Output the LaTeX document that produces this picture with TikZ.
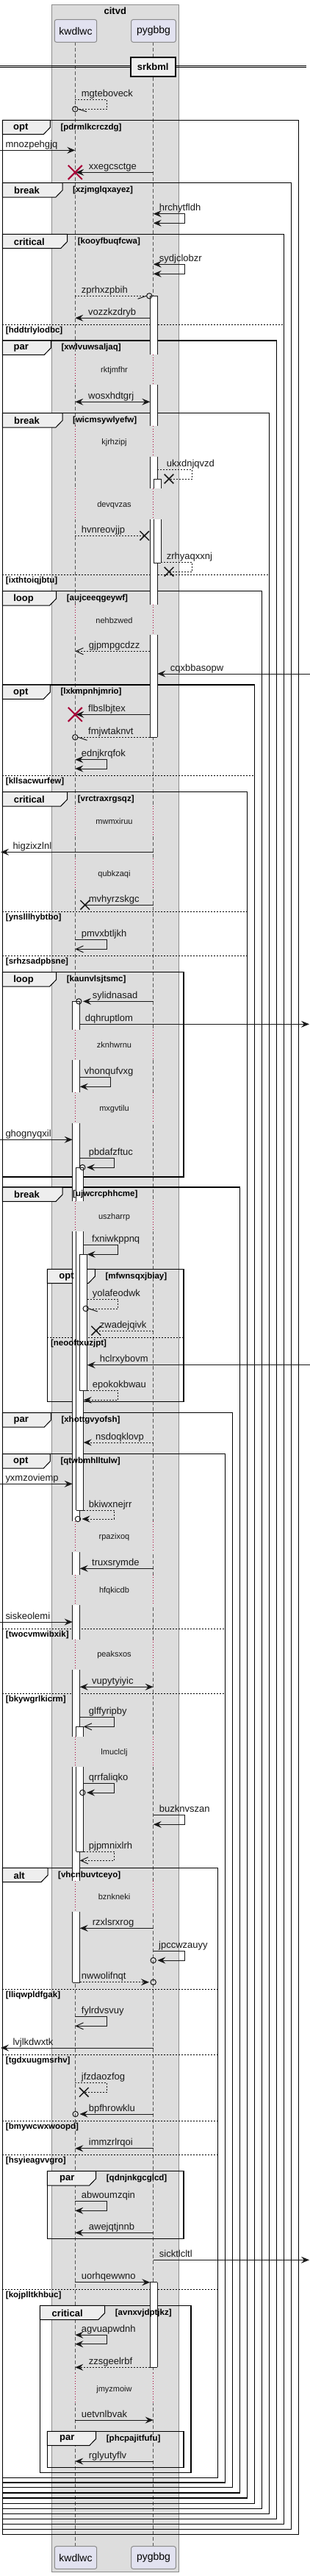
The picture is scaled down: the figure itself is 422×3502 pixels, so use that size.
\documentclass[tikz,border=0pt]{standalone}
\usepackage{fontspec}
\setmainfont{Liberation Sans}
\usetikzlibrary{arrows.meta}
\definecolor{boxgray}{HTML}{DDDDDD}
\definecolor{boxedge}{HTML}{8C8C8C}
\definecolor{partfill}{HTML}{E2E2F0}
\definecolor{partedge}{HTML}{8C8C8C}
\definecolor{tabfill}{HTML}{EEEEEE}
\definecolor{delayred}{HTML}{A80036}
\definecolor{lifegray}{HTML}{555555}
\definecolor{ink}{HTML}{181818}
\tikzset{
  fa/.tip={Stealth[length=11pt,width=9pt,inset=4pt]},
  oa/.tip={Straight Barb[length=10pt,width=9pt]},
  msgline/.style={draw=ink,line width=1pt},
  dashmsg/.style={msgline,dash pattern=on 2pt off 2pt},
  lbl/.style={anchor=base west,inner sep=0pt,text=ink,font=\fontsize{13}{13}\selectfont},
  grd/.style={anchor=west,inner sep=0pt,text=black,font=\bfseries\fontsize{11.5}{11.5}\selectfont},
  framekind/.style={inner sep=0pt,text=black,font=\bfseries\fontsize{13}{13}\selectfont},
  dly/.style={inner sep=0pt,text=ink,font=\fontsize{11}{11}\selectfont},
  frm/.style={draw=black,line width=1.5pt},
  tabsh/.style={draw=black,line width=1pt,fill=tabfill},
  elseln/.style={draw=black,line width=0.8pt,dash pattern=on 2pt off 2pt},
  actedge/.style={draw=ink,line width=1pt},
  lifel/.style={draw=lifegray,line width=0.8pt,dash pattern=on 5pt off 3pt},
  dotl/.style={draw=delayred,line width=1pt,dash pattern=on 1pt off 2.5pt},
  circ/.style={circle,draw=ink,line width=1pt,minimum size=7.4pt,inner sep=0pt},
  partbox/.style={draw=partedge,fill=partfill,line width=1pt,rounded corners=2.5pt,inner sep=0pt,minimum height=30.6pt,font=\fontsize{14}{14}\selectfont},
  lostx/.style={draw=ink,line width=1.5pt},
  killx/.style={draw=delayred,line width=2pt},
}
% straight message: name, x1, x2, y, style, label, labelx
\newcommand\SqMsg[7]{%
  \coordinate (#1-s) at (#2,#4);
  \coordinate (#1-e) at (#3,#4);
  \draw[#5] (#1-s) -- (#1-e);
  \node[lbl] (#1-t) at (#7,#4-4) {#6};
}
% self message: name, xs, xr, ytop, ybot, xend, style, label, labelx
\newcommand\SqSelf[9]{%
  \coordinate (#1-a) at (#2,#4);
  \coordinate (#1-b) at (#3,#4);
  \coordinate (#1-c) at (#3,#5);
  \coordinate (#1-d) at (#6,#5);
  \draw[#7] (#1-a) -- (#1-b) -- (#1-c) -- (#1-d);
  \node[lbl] (#1-t) at (#9,#4-4) {#8};
}
% circle
\newcommand\SqCirc[3]{\node[circ] (#1) at (#2,#3) {};}
% X mark: name x y size style
\newcommand\SqXmark[5]{%
  \coordinate (#1) at (#2,#3);
  \draw[#5] (#2-#4,#3-#4) -- (#2+#4,#3+#4) (#2-#4,#3+#4) -- (#2+#4,#3-#4);
}
% activation: name x y1 y2
\newcommand\SqActBase[4]{%
  \coordinate (#1-tl) at (#2,#3);
  \coordinate (#1-br) at (#2+10,#4);
  \fill[white] (#1-tl) rectangle (#1-br);
  \draw[actedge] (#1-tl) -- (#1-tl |- #1-br) (#1-br |- #1-tl) -- (#1-br);
}
\newcommand\SqActTop[1]{\draw[actedge] (#1-tl) -- (#1-br |- #1-tl);}
\newcommand\SqActBot[1]{\draw[actedge] (#1-tl |- #1-br) -- (#1-br);}
% delay: name y1 y2 text ty
\newcommand\SqDelay[5]{%
  \fill[boxgray] (100.6,#2) rectangle (104,#3);
  \fill[boxgray] (207,#2) rectangle (210.4,#3);
  \coordinate (#1-k1) at (102.3,#2); \coordinate (#1-k2) at (102.3,#3);
  \coordinate (#1-p1) at (208.7,#2); \coordinate (#1-p2) at (208.7,#3);
  \draw[dotl] (#1-k1) -- (#1-k2);
  \draw[dotl] (#1-p1) -- (#1-p2);
  \node[dly] (#1) at (155.5,#5) {#4};
}
% frames: name, top, bottom, left, right, kind, tabright, guard, kindcx
\newcommand\SqFrameShape[9]{%
  \coordinate (#1-nw) at (#4,#2);
  \coordinate (#1-se) at (#5,#3);
  \draw[frm] (#1-nw) rectangle (#1-se);
  \filldraw[tabsh] (#4,#2) -- (#7,#2) -- (#7,#2+10) -- (#7-9,#2+19.3) -- (#4,#2+19.3) -- cycle;
}
\newcommand\SqFrameText[9]{%
  \node[framekind] (#1-k) at (#9,#2+10.2) {#6};
  \node[grd] (#1-g) at (#7+14,#2+10) {#8};
}
\newcommand\FrameData{%
  \SqFrame{f1}{163.3}{3445.7}{3.3}{406.7}{opt}{68.3}{[pdrmlkcrczdg]}{28.3}
  \SqFrame{f2}{248.7}{3438.7}{3.3}{396.7}{break}{85}{[xzjmglqxayez]}{36.5}
  \SqFrame{f3}{318.3}{3431.7}{3.3}{386.7}{critical}{91.7}{[kooyfbuqfcwa]}{39.8}
  \SqFrame{f4}{463}{3424.7}{3.3}{376.7}{par}{69.3}{[xwlvuwsaljaq]}{28.7}
  \SqFrame{f5}{561.7}{3417.7}{3.3}{366.7}{break}{85}{[wicmsywlyefw]}{36.5}
  \SqFrame{f6}{803.7}{3410.3}{3.3}{356.7}{loop}{76.7}{[aujceeqgeywf]}{32}
  \SqFrame{f7}{931}{3403.3}{3.3}{346.7}{opt}{68.3}{[lxkmpnhjmrio]}{28.3}
  \SqFrame{f8}{1076.7}{3396}{3.3}{336.7}{critical}{91.7}{[vrctraxrgsqz]}{39.8}
  \SqFrame{f9}{1321.7}{1600}{3.3}{250}{loop}{76.7}{[kaunvlsjtsmc]}{32}
  \SqFrame{f10}{1614}{3389}{3.3}{326.7}{break}{85}{[ujwcrcphhcme]}{36.5}
  \SqFrame{f11}{1725.3}{1905.7}{64.3}{250}{opt}{129.3}{[mfwnsqxjbiay]}{90.5}
  \SqFrame{f12}{1920.7}{3381.7}{3.3}{316.7}{par}{69.3}{[xhottgvyofsh]}{28.7}
  \SqFrame{f13}{1976.7}{3375}{3.3}{306.7}{opt}{68.3}{[qtwbmhlltulw]}{28.3}
  \SqFrame{f14}{2539.3}{3368.3}{3.3}{296.7}{alt}{65}{[vhcnbuvtceyo]}{26.2}
  \SqFrame{f15}{2951.7}{3043.3}{64.3}{250}{par}{130.7}{[qdnjnkgcglcd]}{91.3}
  \SqFrame{f16}{3134.3}{3361.7}{54.3}{260}{critical}{142.7}{[avnxvjdptjkz]}{91.7}
  \SqFrame{f17}{3305.3}{3354.3}{64.3}{250}{par}{130.7}{[phcpajitfufu]}{91.3}
}
% else: name, y, left, right, guard
\newcommand\SqElseShape[5]{%
  \coordinate (#1-l) at (#3,#2);
  \coordinate (#1-r) at (#4,#2);
  \draw[elseln] (#1-l) -- (#1-r);
}
\newcommand\SqElseText[5]{\node[grd] (#1-g) at (#3+4.5,#2+8.3) {#5};}
\newcommand\ElseData{%
  \SqElse{e1}{441.7}{3.3}{386.7}{[hddtrlylodbc]}
  \SqElse{e2}{781.3}{3.3}{366.7}{[ixthtoiqjbtu]}
  \SqElse{e3}{1054}{3.3}{346.7}{[kllsacwurfew]}
  \SqElse{e4}{1239.3}{3.3}{336.7}{[ynslllhybtbo]}
  \SqElse{e5}{1299.3}{3.3}{336.7}{[srhzsadpbsne]}
  \SqElse{e6}{1818.3}{64.3}{250}{[neooftxuzjpt]}
  \SqElse{e7}{2214}{3.3}{306.7}{[twocvmwibxik]}
  \SqElse{e8}{2302.3}{3.3}{306.7}{[bkywgrlkicrm]}
  \SqElse{e9}{2704.3}{3.3}{296.7}{[lliqwpldfgak]}
  \SqElse{e10}{2793}{3.3}{296.7}{[tgdxuugmsrhv]}
  \SqElse{e11}{2883.3}{3.3}{296.7}{[bmywcwxwoopd]}
  \SqElse{e12}{2929.3}{3.3}{296.7}{[hsyieagvvgro]}
  \SqElse{e13}{3112}{3.3}{296.7}{[kojplltkhbuc]}
}
\begin{document}
\begin{tikzpicture}[x=1pt,y=-1pt]
\useasboundingbox (0,0) rectangle (422,3502);
\fill[white] (0,0) rectangle (422,3502);
% group box
\coordinate (grp-nw) at (70.3,6);
\coordinate (grp-se) at (243.3,3496.7);
\filldraw[draw=boxedge,fill=boxgray,line width=1pt] (grp-nw) rectangle (grp-se);
\node[framekind] (grptitle) at (156.8,15) {citvd};
% lifelines
\coordinate (kw-top) at (102.3,57.3); \coordinate (kw-bot) at (102.3,3461.7);
\coordinate (py-top) at (208.7,57.3); \coordinate (py-bot) at (208.7,3461.7);
\draw[lifel] (kw-top) -- (kw-bot);
\draw[lifel] (py-top) -- (py-bot);
% delays
\SqDelay{d1}{482.3}{523.3}{rktjmfhr}{503.3}
\SqDelay{d2}{579.3}{620.7}{kjrhzipj}{601.7}
\SqDelay{d3}{664.3}{706}{devqvzas}{686.7}
\SqDelay{d4}{821.7}{863.3}{nehbzwed}{843.3}
\SqDelay{d5}{1095.7}{1137.3}{mwmxiruu}{1116.7}
\SqDelay{d6}{1167}{1208.3}{qubkzaqi}{1188.3}
\SqDelay{d7}{1400}{1441}{zknhwrnu}{1421}
\SqDelay{d8}{1485}{1526.7}{mxgvtilu}{1507.3}
\SqDelay{d9}{1632.7}{1674.3}{uszharrp}{1655}
\SqDelay{d10}{2068.3}{2110}{rpazixoq}{2090}
\SqDelay{d11}{2140.7}{2182.3}{hfqkicdb}{2162.3}
\SqDelay{d12}{2228.7}{2270}{peaksxos}{2250}
\SqDelay{d13}{2360.7}{2401.7}{lmuclclj}{2382.3}
\SqDelay{d14}{2557.3}{2599}{bznkneki}{2579}
\SqDelay{d15}{3226}{3267.3}{jmyzmoiw}{3248.3}
% participants
\node[partbox,minimum width=57.4pt] (kwT) at (103,42) {kwdlwc};
\node[partbox,minimum width=60.6pt] (pyT) at (209,42) {pygbbg};
\node[partbox,minimum width=57.4pt] (kwB) at (103,3477) {kwdlwc};
\node[partbox,minimum width=60.6pt] (pyB) at (209,3477) {pygbbg};
% divider
\coordinate (dv1l) at (0,89); \coordinate (dv1r) at (417,89);
\coordinate (dv2l) at (0,91.7); \coordinate (dv2r) at (417,91.7);
\draw[draw=black,line width=1pt] (dv1l) -- (dv1r) (dv2l) -- (dv2r);
\node[draw=black,fill=tabfill,line width=2pt,inner sep=0pt,minimum width=61pt,minimum height=26.3pt,font=\bfseries\fontsize{13}{13}\selectfont] (div) at (208.2,90.85) {srkbml};
% frames
\let\SqFrame\SqFrameShape \FrameData
\let\SqElse\SqElseShape \ElseData
% activations pygbbg
\SqActBase{a1}{204.3}{402.3}{482.3}\SqActTop{a1}
\SqActBase{a2}{204.3}{523.3}{579.3}
\SqActBase{a3}{204.3}{620.7}{664.3}
\SqActBase{a4}{204.3}{706}{821.7}
\SqActBase{a5}{204.3}{863.3}{1002.3}\SqActBot{a5}
\SqActBase{b1}{209.3}{651.3}{664.3}\SqActTop{b1}
\SqActBase{b2}{209.3}{706}{765}\SqActBot{b2}
\SqActBase{a6}{204.3}{3102.7}{3218.3}\SqActTop{a6}\SqActBot{a6}
% activations kwdlwc
\SqActBase{c1}{98.7}{1361.3}{1400}\SqActTop{c1}
\SqActBase{c2}{98.7}{1441}{1485}
\SqActBase{c3}{98.7}{1526.7}{1632.7}
\SqActBase{c4}{98.7}{1674.3}{2068.3}
\SqActBase{c5}{98.7}{2110}{2140.7}
\SqActBase{c6}{98.7}{2182.3}{2228.7}
\SqActBase{c7}{98.7}{2270}{2360.7}
\SqActBase{c8}{98.7}{2401.7}{2557.3}
\SqActBase{c9}{98.7}{2599}{2695}\SqActBot{c9}
\SqActBase{g1}{103.7}{1587}{1632.7}\SqActTop{g1}
\SqActBase{g2}{103.7}{1674.3}{2053.3}\SqActBot{g2}
\SqActBase{h1}{108.7}{1705.3}{1890.7}\SqActTop{h1}\SqActBot{h1}
\SqActBase{j1}{103.7}{2347.3}{2360.7}\SqActTop{j1}
\SqActBase{j2}{103.7}{2401.7}{2517}\SqActBot{j2}
% messages
\SqSelf{m1}{102.3}{145.7}{135.7}{148.3}{106}{dashmsg}{mgteboveck}{110.7}
\SqCirc{m1o}{102.3}{148.3}
\draw[msgline] (m1o.east) -- ++(11.5,3.5);
\SqMsg{m2}{0}{102.3}{204.3}{msgline,-fa}{mnozpehgjq}{7.3}
\SqMsg{m3}{208.7}{103.3}{234.3}{msgline,-fa}{xxegcsctge}{120.7}
\SqXmark{m3x}{102.3}{234.3}{9.5}{killx}
\SqSelf{m4}{208.7}{251.7}{290.7}{303.3}{208.7}{msgline,fa-fa}{hrchytfldh}{216.7}
\SqSelf{m5}{208.7}{251.7}{359.3}{372.3}{208.7}{msgline,fa-fa}{sydjclobzr}{216.7}
\SqMsg{m6}{102.3}{199.6}{402.3}{dashmsg}{zprhxzpbih}{110.7}
\SqCirc{m6o}{203.3}{402.3}
\draw[msgline] (m6o.west) -- ++(-11.5,4);
\SqMsg{m7}{204.3}{102.3}{432.3}{msgline,-fa}{vozzkzdryb}{120}
\SqMsg{m8}{102.3}{204.3}{546.3}{msgline,fa-fa}{wosxhdtgrj}{120}
\SqSelf{m9}{214.3}{261.7}{638.3}{651}{230}{dashmsg}{ukxdnjqvzd}{226.7}
\SqXmark{m9x}{230}{651}{6.3}{lostx}
\SqMsg{m10}{102.3}{196.7}{728.3}{dashmsg}{hvnreovjjp}{110.7}
\SqXmark{m10x}{196.7}{728.3}{6.3}{lostx}
\SqSelf{m11}{219.3}{261.7}{764.3}{777.3}{230}{dashmsg}{zrhyaqxxnj}{226.7}
\SqXmark{m11x}{230}{777.3}{6.3}{lostx}
\SqMsg{m12}{204.3}{102.3}{885.3}{dashmsg,-oa}{gjpmpgcdzz}{120.7}
\SqMsg{m13}{422}{214.3}{916}{msgline,-fa}{cqxbbasopw}{231.7}
\SqMsg{m14}{204.3}{103.3}{971.3}{msgline,-fa}{flbslbjtex}{120}
\SqXmark{m14x}{102.3}{971.3}{9.5}{killx}
\SqMsg{m15}{204.3}{106}{1002.3}{dashmsg}{fmjwtaknvt}{120}
\SqCirc{m15o}{102.3}{1002.3}
\draw[msgline] (m15o.east) -- ++(12,4);
\SqSelf{m16}{102.3}{145.7}{1032.7}{1045}{102.3}{msgline,fa-fa}{ednjkrqfok}{110.7}
\SqMsg{m17}{208.7}{1}{1158.3}{msgline,-fa}{higzixzlnl}{17.3}
\SqMsg{m18}{208.7}{115.7}{1230.3}{msgline}{mvhyrzskgc}{120.7}
\SqXmark{m18x}{115.7}{1230.3}{6.3}{lostx}
\SqSelf{m19}{102.3}{145.7}{1277.3}{1290.3}{102.3}{msgline,-oa}{pmvxbtljkh}{110.7}
\SqMsg{m20}{208.7}{113}{1361.3}{msgline,-fa}{sylidnasad}{125.7}
\SqCirc{m20o}{107.3}{1361.3}
\SqMsg{m21}{108.7}{421}{1392.3}{msgline,-fa}{dqhruptlom}{115.7}
\SqSelf{m22}{108.7}{150.7}{1464.3}{1477.3}{108.7}{msgline,-fa}{vhonqufvxg}{114.7}
\SqMsg{m23}{0}{98.7}{1549.3}{msgline,-fa}{ghognyqxil}{7.3}
\SqSelf{m24}{108.7}{155.7}{1574.3}{1587}{118}{msgline,-fa}{pbdafzftuc}{120.7}
\SqCirc{m24o}{112.3}{1587}
\SqSelf{m25}{113.7}{160.7}{1692.3}{1705.3}{118.7}{msgline,-fa}{fxniwkppnq}{125}
\SqSelf{m26}{118.7}{160.7}{1766}{1779}{120.4}{dashmsg}{yolafeodwk}{125.7}
\SqCirc{m26o}{116.7}{1779}
\draw[msgline] (m26o.east) -- ++(12,4);
\SqMsg{m27}{208.7}{130.7}{1809}{dashmsg}{zwadejqivk}{135.7}
\SqXmark{m27x}{130.7}{1809}{6.3}{lostx}
\SqMsg{m28}{422}{118.7}{1855.7}{msgline,-fa}{hclrxybovm}{135.7}
\SqSelf{m29}{118.7}{160.7}{1890.7}{1903.3}{113.7}{dashmsg,-fa}{epokokbwau}{125.7}
\SqMsg{m30}{208.7}{113.7}{1961}{dashmsg,-fa}{nsdoqklovp}{130}
\SqMsg{m31}{0}{98.7}{2017.3}{msgline,-fa}{yxmzoviemp}{7.3}
\SqSelf{m32}{113.7}{155.7}{2053.3}{2065}{111.5}{dashmsg,-fa}{bkiwxnejrr}{120.7}
\SqCirc{m32o}{106}{2065}
\SqMsg{m33}{208.7}{108.7}{2132.3}{msgline,-fa}{truxsrymde}{125}
\SqMsg{m34}{0}{98.7}{2205}{msgline,-fa}{siskeolemi}{7.3}
\SqMsg{m35}{108.7}{208.7}{2293.3}{msgline,fa-fa}{vupytyiyic}{125}
\SqSelf{m36}{108.7}{155.7}{2334.3}{2347.3}{113.7}{msgline,-oa}{glffyripby}{120.7}
\SqSelf{m37}{113.7}{155.7}{2424.3}{2437}{118}{msgline,-fa}{qrrfaliqko}{120.7}
\SqCirc{m37o}{112.3}{2437}
\SqSelf{m38}{208.7}{251.7}{2467.7}{2480.3}{208.7}{msgline,-fa}{buzknvszan}{216.7}
\SqSelf{m39}{113.7}{155.7}{2517}{2529.3}{108.7}{dashmsg,-oa}{pjpmnixlrh}{120.7}
\SqMsg{m40}{208.7}{108.7}{2621.3}{msgline,-fa}{rzxlsrxrog}{125.7}
\SqSelf{m41}{208.7}{251.7}{2652.3}{2665}{214.3}{msgline,-fa}{jpccwzauyy}{216}
\SqCirc{m41o}{208.7}{2665}
\SqMsg{m42}{108.7}{203}{2694.7}{dashmsg,-fa}{nwwolifnqt}{110.7}
\SqCirc{m42o}{208.7}{2694.7}
\SqSelf{m43}{102.3}{145.7}{2741.7}{2754.3}{102.3}{msgline,-oa}{fylrdvsvuy}{110.7}
\SqMsg{m44}{208.7}{1}{2784}{msgline,-fa}{lvjlkdwxtk}{17.3}
\SqSelf{m45}{102.3}{145.7}{2831}{2844.3}{114.3}{dashmsg}{jfzdaozfog}{110.7}
\SqXmark{m45x}{114.3}{2844.3}{6.3}{lostx}
\SqMsg{m46}{208.7}{108.5}{2874}{msgline,-fa}{bpfhrowklu}{120.7}
\SqCirc{m46o}{102.7}{2874}
\SqMsg{m47}{208.7}{102.3}{2920.7}{msgline,-fa}{immzrlrqoi}{120.7}
\SqSelf{m48}{102.3}{145.7}{2992.7}{3005.3}{102.3}{msgline,-fa}{abwoumzqin}{110.7}
\SqMsg{m49}{208.7}{102.3}{3035.3}{msgline,-fa}{awejqtjnnb}{120.7}
\SqMsg{m50}{208.7}{421}{3072.3}{msgline,-fa}{sicktlcltl}{216.7}
\SqMsg{m51}{102.3}{204.3}{3102.7}{msgline,-fa}{uorhqewwno}{110.7}
\SqSelf{m52}{102.3}{145.7}{3174.3}{3186.7}{102.3}{msgline,fa-fa}{agvuapwdnh}{110.7}
\SqMsg{m53}{204.3}{102.3}{3218.3}{dashmsg,-fa}{zzsgeelrbf}{120.7}
\SqMsg{m54}{102.3}{208.7}{3290}{msgline,-fa}{uetvnlbvak}{110.7}
\SqMsg{m55}{208.7}{102.3}{3346}{msgline,-fa}{rglyutyflv}{120.7}
% frame texts
\let\SqFrame\SqFrameText \FrameData
\let\SqElse\SqElseText \ElseData
\end{tikzpicture}
\end{document}
